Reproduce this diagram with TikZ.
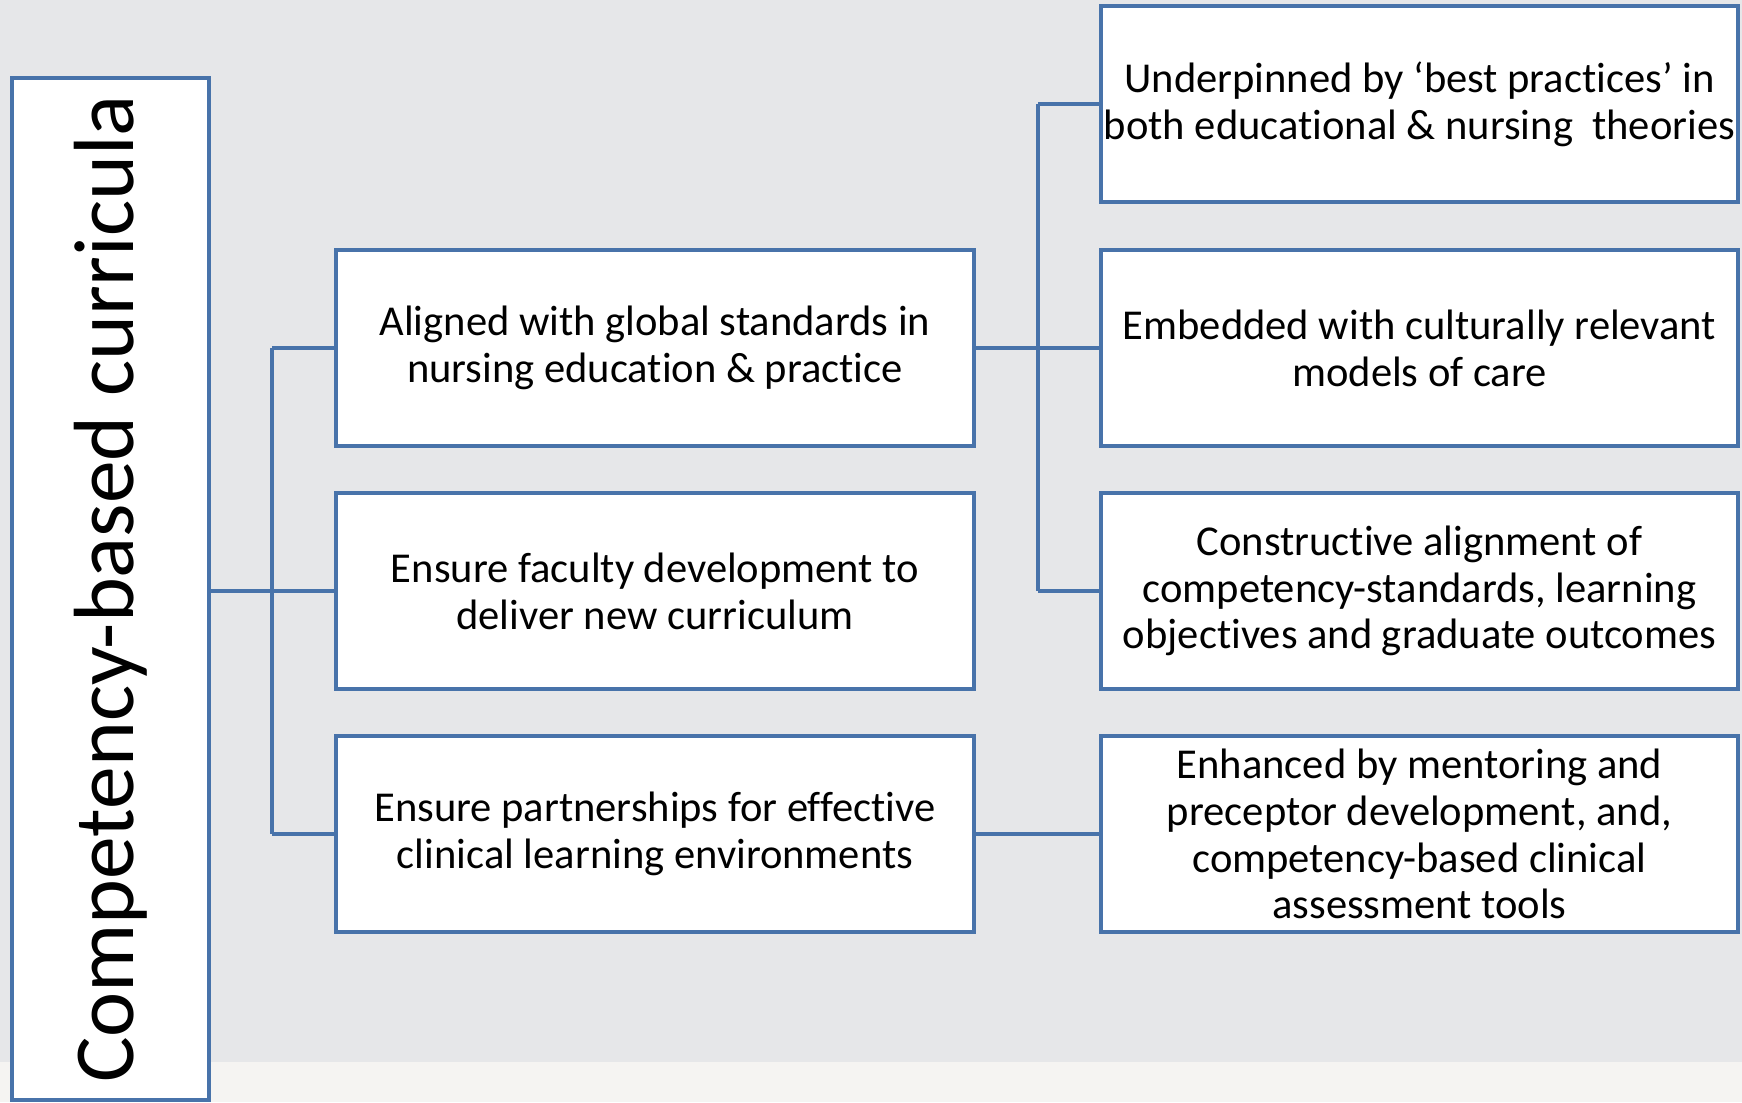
\documentclass[tikz,border=0pt]{standalone}
\usepackage{fontspec}
\setmainfont[Ligatures=NoCommon]{Carlito}
\usetikzlibrary{calc}

\definecolor{slide}{RGB}{230,231,233}
\definecolor{strip}{RGB}{245,244,242}
\definecolor{boxblue}{RGB}{72,115,170}

\tikzset{
        card/.style={draw=boxblue, fill=white, line width=0.04cm, align=center,
                inner sep=0pt, minimum height=1.95cm,
                font=\fontsize{12.1}{13.3}\selectfont},
        midcard/.style={card, minimum width=6.38cm},
        rightcard/.style={card, minimum width=6.37cm},
        link/.style={draw=boxblue, line width=0.04cm}
}

\begin{document}
\begin{tikzpicture}[x=0.01cm, y=-0.01cm]
        \useasboundingbox (0,0) rectangle (1742,1102);
        \fill[slide] (0,0) rectangle (1742,1102);
        \fill[strip] (0,1062) rectangle (1742,1102);

        % main box on the left
        \node[card, minimum width=1.97cm, minimum height=10.22cm] (cbc) at (110.5,589)
                {\rotatebox{90}{\fontsize{24.3}{28}\selectfont Competency-based curricula}};

        \node[midcard] (mid1) at (655,348) {Aligned with global standards in\\nursing education \& practice};
        \node[midcard] (mid2) at (655,591) {Ensure faculty development to\\deliver new curriculum};
        \node[midcard] (mid3) at (655,834) {Ensure partnerships for effective\\clinical learning environments};

        \node[rightcard] (rgt1) at (1419.5,104) {Underpinned by ‘best practices’ in\\both educational \& nursing\ \ theories};
        \node[rightcard] (rgt2) at (1419.5,348) {Embedded with culturally relevant\\models of care};
        \node[rightcard] (rgt3) at (1419.5,591) {Constructive alignment of\\competency-standards, learning\\objectives and graduate outcomes};
        \node[rightcard] (rgt4) at (1419.5,834) {Enhanced by mentoring and\\preceptor development, and,\\competency-based clinical\\assessment tools};

        \coordinate (ltrunk) at (272,0);
        \coordinate (rtrunk) at (1038,0);

        \draw[link] (cbc.east |- mid2.west) -- (mid2.west);
        \draw[link] (ltrunk |- mid1.west) -- (mid1.west);
        \draw[link] (ltrunk |- mid3.west) -- (mid3.west);
        \draw[link] (ltrunk |- mid1.west) -- (ltrunk |- mid3.west);

        \draw[link] (mid1.east) -- (rgt2.west);
        \draw[link] (rtrunk |- rgt1.west) -- (rgt1.west);
        \draw[link] (rtrunk |- rgt3.west) -- (rgt3.west);
        \draw[link] (rtrunk |- rgt1.west) -- (rtrunk |- rgt3.west);
        \draw[link] (mid3.east) -- (rgt4.west);
\end{tikzpicture}
\end{document}
